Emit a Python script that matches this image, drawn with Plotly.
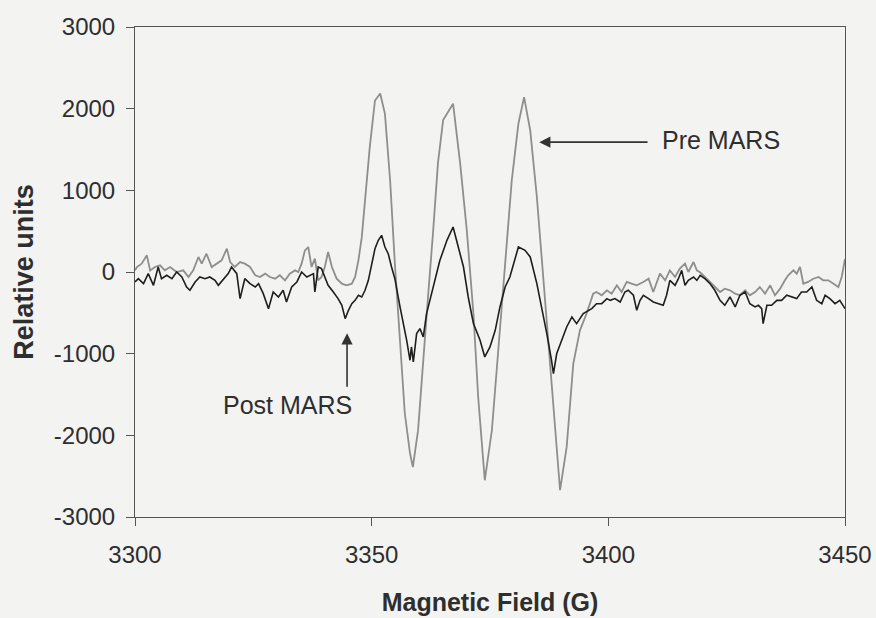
import plotly.graph_objects as go

# EPR spectra: magnetic field (G) vs signal intensity (relative units)
pre_field = [
    3300.0, 3300.4, 3301.4, 3302.5, 3303.2, 3304.2, 3305.3, 3306.3, 3307.4, 3308.8,
    3310.2, 3311.3, 3312.3, 3313.4, 3314.1, 3315.1, 3316.2, 3317.3, 3318.3, 3319.4,
    3320.1, 3321.1, 3322.2, 3323.2, 3324.3, 3325.4, 3326.4, 3327.5, 3328.5, 3329.6,
    3330.6, 3331.7, 3332.7, 3333.8, 3334.5, 3335.2, 3335.9, 3336.6, 3337.3, 3338.0,
    3338.7, 3339.4, 3340.1, 3340.8, 3341.6, 3342.6, 3343.7, 3344.7, 3345.8, 3346.5,
    3347.2, 3347.9, 3348.6, 3349.6, 3350.7, 3351.8, 3352.8, 3353.9, 3354.9, 3356.0,
    3357.0, 3358.1, 3358.7, 3359.8, 3360.8, 3361.9, 3363.0, 3364.0, 3365.1, 3366.1,
    3367.2, 3368.7, 3370.1, 3371.5, 3372.5, 3373.9, 3375.4, 3376.8, 3378.2, 3379.6,
    3381.0, 3382.2, 3383.5, 3384.9, 3386.3, 3387.7, 3388.7, 3389.8, 3391.2, 3392.6,
    3394.0, 3395.4, 3396.8, 3397.5, 3398.6, 3399.7, 3400.7, 3401.8, 3402.8, 3403.9,
    3404.9, 3406.0, 3407.4, 3408.5, 3409.5, 3410.2, 3410.9, 3412.0, 3413.0, 3414.1,
    3415.1, 3416.2, 3416.9, 3418.0, 3418.7, 3419.5, 3420.4, 3421.5, 3422.5, 3423.6,
    3424.6, 3425.7, 3426.8, 3427.8, 3428.9, 3429.9, 3431.0, 3432.0, 3433.1, 3434.2,
    3435.2, 3436.3, 3437.3, 3438.0, 3439.1, 3439.8, 3440.5, 3441.2, 3442.2, 3443.3,
    3444.4, 3445.4, 3446.5, 3447.5, 3448.6, 3449.3, 3449.8, 3450.0,
]
pre_signal = [
    20, 61, 102, 204, 20, 61, 82, 20, 61, 0,
    20, -61, 20, 184, 102, 224, 61, 102, 143, 286,
    122, 61, 122, 102, 61, -40, -61, -20, -61, -82,
    -40, -102, -20, 20, 0, 102, 265, 306, 61, 163,
    -102, -61, 61, 245, 61, -82, -143, -163, -143, -61,
    143, 420, 913, 1530, 2100, 2186, 1940, 1120, 105, -920,
    -1730, -2220, -2390, -1940, -1120, -310, 510, 1330, 1860, 1950,
    2061, 1327, 510, -509, -1530, -2550, -1938, -918, 103, 1122,
    1816, 2142, 1734, 918, -102, -1121, -1938, -2672, -2142, -1121,
    -714, -509, -265, -245, -285, -224, -265, -163, -245, -122,
    -143, -163, -122, -82, -245, -143, -20, -102, 20, -61,
    41, 102, 0, 122, 20, -10, -61, -122, -184, -245,
    -204, -224, -265, -285, -224, -285, -245, -184, -265, -163,
    -285, -204, -102, -40, 20, -20, 61, -143, -122, -82,
    -61, -102, -102, -143, -184, -61, 122, 160,
]

post_field = [
    3300.0, 3300.7, 3301.8, 3302.8, 3303.9, 3304.9, 3305.6, 3306.7, 3307.8, 3308.8,
    3309.9, 3310.9, 3311.6, 3312.7, 3313.7, 3314.8, 3315.8, 3316.9, 3317.6, 3318.7,
    3319.7, 3320.4, 3321.5, 3322.2, 3323.2, 3324.3, 3325.4, 3326.1, 3327.1, 3328.2,
    3329.2, 3330.3, 3331.3, 3332.0, 3333.1, 3334.2, 3335.2, 3336.3, 3337.7, 3338.0,
    3338.7, 3339.4, 3340.1, 3340.8, 3341.9, 3342.9, 3343.7, 3344.4, 3345.1, 3345.8,
    3346.5, 3347.2, 3347.9, 3348.6, 3349.3, 3350.0, 3350.7, 3351.4, 3352.1, 3352.8,
    3353.5, 3354.2, 3354.9, 3356.0, 3357.0, 3357.4, 3358.1, 3358.4, 3358.8, 3359.5,
    3360.2, 3360.9, 3361.6, 3363.0, 3364.4, 3365.9, 3367.2, 3368.3, 3369.4, 3370.4,
    3371.5, 3372.9, 3373.9, 3375.0, 3376.1, 3377.1, 3378.2, 3379.2, 3380.3, 3381.0,
    3382.4, 3383.5, 3384.9, 3385.9, 3387.0, 3388.0, 3388.4, 3389.1, 3390.2, 3391.2,
    3392.3, 3393.3, 3394.7, 3395.8, 3396.5, 3397.5, 3398.6, 3399.7, 3400.4, 3401.4,
    3402.5, 3403.5, 3404.2, 3405.3, 3406.0, 3406.7, 3407.4, 3408.5, 3409.5, 3410.6,
    3411.6, 3412.3, 3413.0, 3414.1, 3414.8, 3415.5, 3416.2, 3416.9, 3418.0, 3418.7,
    3419.4, 3420.4, 3421.5, 3422.5, 3423.6, 3424.6, 3425.7, 3426.8, 3427.8, 3428.9,
    3429.9, 3431.0, 3431.7, 3432.4, 3432.7, 3433.5, 3434.5, 3435.6, 3436.6, 3437.7,
    3438.7, 3439.8, 3440.8, 3441.9, 3443.0, 3444.0, 3445.1, 3445.8, 3446.8, 3447.9,
    3448.9, 3450.0,
]
post_signal = [
    -122, -82, -143, -20, -163, 61, -82, -40, -82, 0,
    -61, -184, -224, -122, -61, -82, -61, -102, -163, -82,
    -20, 61, -20, -326, -82, -143, -184, -143, -265, -449,
    -245, -306, -224, -367, -184, -122, 0, -61, -20, -245,
    61, 41, -61, -163, -245, -326, -408, -571, -469, -388,
    -347, -285, -306, -224, -102, 102, 286, 388, 449, 306,
    224, 61, -82, -430, -715, -836, -1081, -918, -1102, -754,
    -693, -796, -509, -185, 140, 388, 551, 306, 61, -306,
    -632, -836, -1040, -918, -714, -428, -184, -61, 184, 306,
    265, 184, -143, -428, -754, -1081, -1244, -999, -836, -673,
    -551, -632, -509, -469, -449, -388, -388, -326, -347, -326,
    -367, -245, -224, -285, -469, -347, -285, -326, -367, -388,
    -408, -285, -102, -163, -82, 20, -163, -102, -61, -102,
    -40, -82, -143, -224, -347, -408, -306, -428, -285, -245,
    -388, -428, -408, -449, -632, -408, -408, -347, -347, -285,
    -306, -326, -245, -245, -184, -347, -388, -285, -326, -388,
    -347, -449,
]

x_ticks = [3300, 3350, 3400, 3450]
y_ticks = [-3000, -2000, -1000, 0, 1000, 2000, 3000]

font_family = "Arial, Liberation Sans, sans-serif"
text_color = "#2e2e2e"
paper = "#f3f3f1"

fig = go.Figure()
fig.add_trace(go.Scatter(
    x=pre_field, y=pre_signal, mode="lines", name="Pre MARS",
    line=dict(color="#8e8e8e", width=1.8),
))
fig.add_trace(go.Scatter(
    x=post_field, y=post_signal, mode="lines", name="Post MARS",
    line=dict(color="#1e1e1e", width=1.6),
))

axis_common = dict(
    showgrid=False, zeroline=False, showline=True, linecolor="#555555",
    linewidth=1, mirror=True, ticks="outside", ticklen=8, tickwidth=1,
    tickcolor="#555555", automargin=False,
    tickfont=dict(family=font_family, size=24, color=text_color),
)

fig.update_layout(
    width=876, height=618,
    margin=dict(l=135, r=31, t=27, b=101),
    paper_bgcolor=paper, plot_bgcolor=paper,
    showlegend=False,
    xaxis=dict(
        range=[3300, 3450], tickvals=x_ticks,
        ticktext=[str(v) for v in x_ticks],
        ticklabelstandoff=8,
        title=dict(text="<b>Magnetic Field (G)</b>", standoff=26,
                   font=dict(family=font_family, size=25, color=text_color)),
        **axis_common,
    ),
    yaxis=dict(
        range=[-3000, 3000], tickvals=y_ticks,
        ticktext=[str(v) for v in y_ticks],
        ticklabelstandoff=6,
        title=dict(text="<b>Relative units</b>", standoff=12,
                   font=dict(family=font_family, size=27, color=text_color)),
        **axis_common,
    ),
)

# Arrow pointing at the Pre MARS trace, with its label to the right
fig.add_annotation(
    x=3385.4, y=1590, ax=3408.6, ay=1590, xref="x", yref="y",
    axref="x", ayref="y", text="", showarrow=True,
    arrowhead=2, arrowsize=1.4, arrowwidth=1.6, arrowcolor="#333333",
)
fig.add_annotation(
    x=3423.8, y=1612, xref="x", yref="y", text="Pre MARS", showarrow=False,
    font=dict(family=font_family, size=25, color=text_color),
)

# Arrow pointing up at the Post MARS trace, with its label below
fig.add_annotation(
    x=3344.8, y=-750, ax=3344.8, ay=-1423, xref="x", yref="y",
    axref="x", ayref="y", text="", showarrow=True,
    arrowhead=2, arrowsize=1.4, arrowwidth=1.6, arrowcolor="#333333",
)
fig.add_annotation(
    x=3332.3, y=-1632, xref="x", yref="y", text="Post MARS", showarrow=False,
    font=dict(family=font_family, size=25, color=text_color),
)

fig.write_html("out.html")
